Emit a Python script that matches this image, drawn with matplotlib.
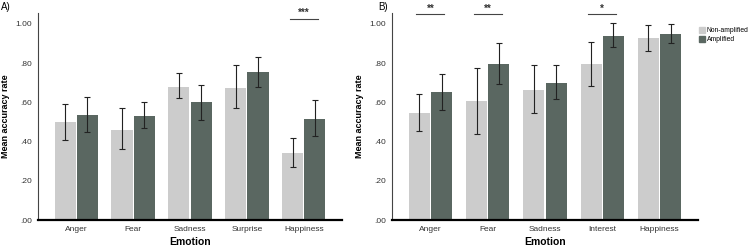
import numpy as np
import matplotlib.pyplot as plt
from matplotlib.patches import Patch

plt.rcParams["font.family"] = "Liberation Sans"
plt.rcParams["font.size"] = 6

# panel A
emo_a = ["Anger", "Fear", "Sadness", "Surprise", "Happiness"]
non_a = [0.50, 0.46, 0.68, 0.675, 0.34]
non_a_lo = [0.41, 0.36, 0.62, 0.57, 0.27]
non_a_hi = [0.59, 0.57, 0.75, 0.79, 0.42]
amp_a = [0.535, 0.53, 0.60, 0.755, 0.515]
amp_a_lo = [0.45, 0.47, 0.51, 0.68, 0.43]
amp_a_hi = [0.63, 0.60, 0.69, 0.83, 0.61]
sig_a = {4: "***"}

# panel B
emo_b = ["Anger", "Fear", "Sadness", "Interest", "Happiness"]
non_b = [0.547, 0.605, 0.663, 0.796, 0.929]
non_b_lo = [0.454, 0.439, 0.544, 0.684, 0.864]
non_b_hi = [0.641, 0.774, 0.789, 0.910, 0.993]
amp_b = [0.651, 0.797, 0.699, 0.939, 0.949]
amp_b_lo = [0.561, 0.692, 0.616, 0.881, 0.905]
amp_b_hi = [0.746, 0.905, 0.789, 1.003, 0.998]
sig_b = {0: "**", 1: "**", 3: "*"}

light = "#cccccc"
dark = "#5a6761"
w = 0.37
gap = 0.02

fig = plt.figure(figsize=(7.5, 2.47), dpi=100)
ax1 = fig.add_axes([38/750, 1-220/247, 304/750, 207/247])
ax2 = fig.add_axes([392/750, 1-220/247, 306/750, 207/247])


def panel(ax, emo, non, nlo, nhi, amp, alo, ahi, sig, sig_y):
    x = np.arange(len(emo))
    non = np.array(non); amp = np.array(amp)
    xl = x - w/2 - gap/2
    xr = x + w/2 + gap/2
    ax.bar(xl, non, w, color=light)
    ax.bar(xr, amp, w, color=dark)
    kw = dict(fmt="none", ecolor="#222222", elinewidth=0.8, capsize=2.5, capthick=0.8)
    ax.errorbar(xl, non, yerr=[non - np.array(nlo), np.array(nhi) - non], **kw)
    ax.errorbar(xr, amp, yerr=[amp - np.array(alo), np.array(ahi) - amp], **kw)
    for i, s in sig.items():
        ax.plot([xl[i] - 0.05, xr[i] + 0.05], [sig_y, sig_y], color="#444444", lw=0.8, clip_on=False)
        ax.text(x[i], sig_y + 0.003, s, ha="center", va="bottom", fontsize=7, fontweight="bold", color="#333333")
    ax.set_xticks(x)
    ax.set_xticklabels(emo)
    ax.set_yticks([0, 0.2, 0.4, 0.6, 0.8, 1.0])
    ax.set_yticklabels([".00", ".20", ".40", ".60", ".80", "1.00"])
    ax.set_ylim(0, 207/196)
    ax.set_xlim(-0.67, 4.67)
    ax.tick_params(length=0, pad=4, labelcolor="#333333")
    for s in ["top", "right"]:
        ax.spines[s].set_visible(False)
    ax.spines["left"].set_color("#444444")
    ax.spines["left"].set_linewidth(0.8)
    ax.spines["bottom"].set_linewidth(1.6)
    ax.spines["bottom"].set_color("black")
    ax.set_xlabel("Emotion", fontsize=7.5, fontweight="bold", labelpad=3)
    ax.set_ylabel("Mean accuracy rate", fontsize=6.5, fontweight="bold", labelpad=4)


panel(ax1, emo_a, non_a, non_a_lo, non_a_hi, amp_a, amp_a_lo, amp_a_hi, sig_a, 1.026)
panel(ax2, emo_b, non_b, non_b_lo, non_b_hi, amp_b, amp_b_lo, amp_b_hi, sig_b, 1.049)

fig.text(0.001, 0.99, "A)", ha="left", va="top", fontsize=7)
fig.text(378/750, 0.99, "B)", ha="left", va="top", fontsize=7)

handles = [Patch(color=light, label="Non-amplified"), Patch(color=dark, label="Amplified")]
fig.legend(handles=handles, loc="upper left", bbox_to_anchor=(699/750, 1-27/247),
           frameon=False, fontsize=4.9, handlelength=0.9, handleheight=0.9,
           handletextpad=0.2, labelspacing=0.3, borderaxespad=0, borderpad=0)

fig.savefig("out.png", dpi=100)
